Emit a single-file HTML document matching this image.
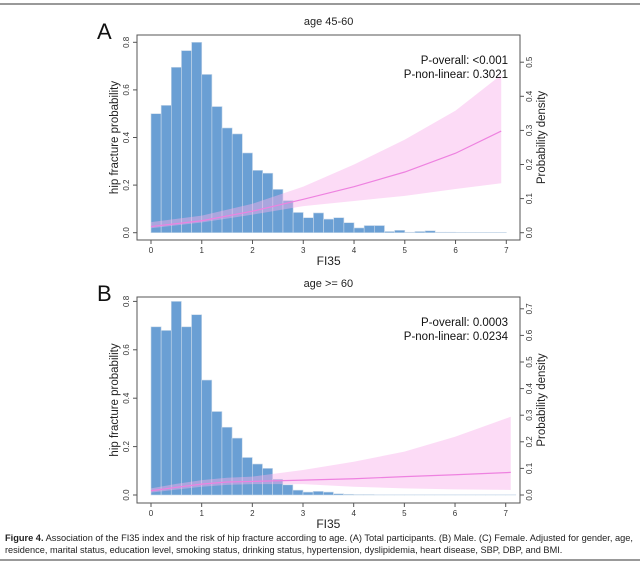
<!DOCTYPE html>
<html><head><meta charset="utf-8"><style>
html,body{margin:0;padding:0;background:#fff;}
body{width:640px;height:564px;overflow:hidden;font-family:"Liberation Sans",sans-serif;}
</style></head><body>
<svg id="fig" width="640" height="564" xmlns="http://www.w3.org/2000/svg" font-family="Liberation Sans, sans-serif">
<line x1="0" y1="4" x2="640" y2="4" stroke="#333" stroke-width="1"/>
<line x1="0" y1="560" x2="640" y2="560" stroke="#333" stroke-width="1"/>
<text x="5" y="541" font-size="9.2" fill="#222" textLength="628" lengthAdjust="spacingAndGlyphs"><tspan font-weight="bold">Figure 4.</tspan> Association of the FI35 index and the risk of hip fracture according to age. (A) Total participants. (B) Male. (C) Female. Adjusted for gender, age,</text>
<text x="5" y="553" font-size="9.2" fill="#222">residence, marital status, education level, smoking status, drinking status, hypertension, dyslipidemia, heart disease, SBP, DBP, and BMI.</text>
</svg>
<script>
// Panel A data
const binsA = [0.5,0.535,0.695,0.765,0.8,0.665,0.53,0.44,0.415,0.335,0.262,0.25,0.182,0.135,0.085,0.063,0.083,0.057,0.063,0.042,0.02,0.03,0.03,0.005,0.01,0.002,0.005,0.008,0.002,0.002,0.001,0.001,0.001,0.001,0.001];
const curveXA = [0,1,2,3,4,5,6,6.9];
const curveA = [0.018,0.035,0.063,0.098,0.135,0.178,0.233,0.298];
const upperA = [0.031,0.05,0.085,0.135,0.2,0.273,0.358,0.463];
const lowerA = [0.013,0.03,0.053,0.078,0.093,0.108,0.128,0.145];
const rightTicksA = [0,0.1,0.2,0.3,0.4,0.5];
// Panel B data
const binsB = [0.695,0.68,0.8,0.695,0.745,0.475,0.345,0.28,0.235,0.155,0.128,0.11,0.065,0.042,0.02,0.012,0.015,0.012,0.005,0.003,0.002,0.002,0.001,0.001,0.001,0.001,0.001,0.001,0.001,0.001,0.001,0.001,0.001,0.001,0.001,0.001];
const curveXB = [0,0.5,1,1.5,2,3,4,5,6,7.1];
const curveB = [0.016,0.029,0.041,0.049,0.051,0.056,0.061,0.069,0.076,0.085];
const upperB = [0.025,0.042,0.056,0.065,0.069,0.094,0.125,0.163,0.219,0.294];
const lowerB = [0.009,0.02,0.031,0.038,0.041,0.041,0.031,0.025,0.021,0.019];
const rightTicksB = [0,0.1,0.2,0.3,0.4,0.5,0.6,0.7];
const leftTicks = [0,0.2,0.4,0.6,0.8];
const xTicks = [0,1,2,3,4,5,6,7];
const binWidth = 0.2;

const NS='http://www.w3.org/2000/svg';
const svg=document.getElementById('fig');
function mk(tag,attrs,parent){const e=document.createElementNS(NS,tag);for(const k in attrs)e.setAttribute(k,attrs[k]);(parent||svg).appendChild(e);return e;}

function panel(cfg){
  const g=mk('g',{});
  
  
  const X=v=>cfg.x0+v*(cfg.x7-cfg.x0)/7;
  const YL=v=>cfg.y0-v*cfg.lUnit*10;
  const YR=v=>cfg.y0-v*cfg.rUnit*10;
  cfg.bins.forEach((h,i)=>{
    const r=mk('rect',{x:X(i*binWidth),y:YL(h),width:X(binWidth)-X(0),height:cfg.y0-YL(h),fill:'#6a9fd4',stroke:'#c9d9ea','stroke-width':0.6},g);
    
    
  });
  let d='M'+cfg.cx.map((x,i)=>X(x)+','+YR(cfg.up[i])).join('L');
  for(let i=cfg.cx.length-1;i>=0;i--) d+='L'+X(cfg.cx[i])+','+YR(cfg.lo[i]);
  const band=mk('path',{d:d+'Z',fill:'rgba(248,175,235,0.45)',stroke:'none'},g);
  
  
  const ln=mk('polyline',{points:cfg.cx.map((x,i)=>X(x)+','+YR(cfg.c[i])).join(' '),fill:'none',stroke:'#ee82e0','stroke-width':1.2},g);
  
  
  const box=mk('rect',{x:cfg.bx0,y:cfg.by0,width:cfg.bx1-cfg.bx0,height:cfg.by1-cfg.by0,fill:'none',stroke:'#555','stroke-width':1},g);
  
  
  xTicks.forEach(t=>{
    mk('line',{x1:X(t),x2:X(t),y1:cfg.by1,y2:cfg.by1+4,stroke:'#555'},g);
    const tx=mk('text',{x:X(t),y:cfg.by1+13,'font-size':8,'text-anchor':'middle',fill:'#333'},g);
    tx.textContent=t;
    
    
  });
  leftTicks.forEach(t=>{
    mk('line',{x1:cfg.bx0,x2:cfg.bx0-4,y1:YL(t),y2:YL(t),stroke:'#555'},g);
    const tx=mk('text',{x:cfg.bx0-8,y:YL(t),'font-size':8,'text-anchor':'middle',fill:'#333',transform:'rotate(-90 '+(cfg.bx0-8)+' '+YL(t)+')'},g);
    tx.textContent=t.toFixed(1);
    
    
  });
  cfg.rt.forEach(t=>{
    mk('line',{x1:cfg.bx1,x2:cfg.bx1+4,y1:YR(t),y2:YR(t),stroke:'#555'},g);
    const tx=mk('text',{x:cfg.bx1+12,y:YR(t),'font-size':8,'text-anchor':'middle',fill:'#333',transform:'rotate(-90 '+(cfg.bx1+12)+' '+YR(t)+')'},g);
    tx.textContent=t.toFixed(1);
    
    
  });
  const my=(cfg.by0+cfg.by1)/2;
  let t=mk('text',{x:118,y:my,'font-size':11.5,'text-anchor':'middle',fill:'#222',transform:'rotate(-90 118 '+my+')'},g);
  t.textContent='hip fracture probability';
  
  
  t=mk('text',{x:545,y:my,'font-size':11.5,'text-anchor':'middle',fill:'#222',transform:'rotate(-90 545 '+my+')'},g);
  t.textContent='Probability density';
  
  
  t=mk('text',{x:X(3.5),y:cfg.by1+25,'font-size':12,'text-anchor':'middle',fill:'#222'},g);
  t.textContent='FI35';
  
  
  t=mk('text',{x:X(3.5),y:cfg.by0-10,'font-size':11,'text-anchor':'middle',fill:'#222'},g);
  t.textContent=cfg.title;
  
  
  t=mk('text',{x:97,y:cfg.by0+4,'font-size':22,fill:'#111'},g);
  t.textContent=cfg.id;
  
  
  t=mk('text',{x:508,y:cfg.by0+29,'font-size':11.5,'text-anchor':'end',fill:'#111'},g);
  t.textContent=cfg.p1;
  
  
  t=mk('text',{x:508,y:cfg.by0+43,'font-size':11.5,'text-anchor':'end',fill:'#111'},g);
  t.textContent=cfg.p2;
  
  
}
panel({id:'A',title:'age 45-60',x0:151,x7:506.3,y0:232.7,lUnit:23.8,rUnit:34.1,bx0:137,bx1:520,by0:35,by1:240,
  bins:binsA,cx:curveXA,c:curveA,up:upperA,lo:lowerA,rt:rightTicksA,p1:'P-overall: <0.001',p2:'P-non-linear: 0.3021'});
panel({id:'B',title:'age >= 60',x0:151,x7:505.7,y0:495,lUnit:24.2,rUnit:26.6,bx0:137,bx1:520,by0:297,by1:503,
  bins:binsB,cx:curveXB,c:curveB,up:upperB,lo:lowerB,rt:rightTicksB,p1:'P-overall: 0.0003',p2:'P-non-linear: 0.0234'});
</script>
</body></html>
